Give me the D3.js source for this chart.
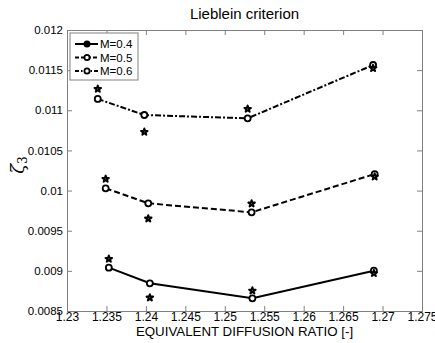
<!DOCTYPE html>
<html>
<head>
<meta charset="utf-8">
<script src="https://cdn.jsdelivr.net/npm/d3@7"></script>
<style>
body { margin: 0; background: #fff; }
text { font-family: Arial, "Liberation Sans", sans-serif; }
</style>
</head>
<body>
<script>
/* Data */
var series = ["M=0.4", "M=0.5", "M=0.6"];
var dash = ["", "6,3", "6,2,2,2"];
var xM04 = [1.2353, 1.2405, 1.2535, 1.2689],
	yM04 = [0.00904, 0.008845, 0.008658, 0.009002],
	sM04 = [0.009148, 0.008666, 0.008753, 0.00897];
var xM05 = [1.2349, 1.2403, 1.2534, 1.2690],
	yM05 = [0.010028, 0.009841, 0.009729, 0.010206],
	sM05 = [0.010144, 0.00965, 0.009837, 0.010173];
var xM06 = [1.2339, 1.2398, 1.2529, 1.2688],
	yM06 = [0.011141, 0.010941, 0.0109, 0.011564],
	sM06 = [0.011265, 0.01073, 0.011016, 0.011523];
var xTicks = [1.23, 1.235, 1.24, 1.245, 1.25, 1.255, 1.26, 1.265, 1.27, 1.275];
var yTicks = [0.0085, 0.009, 0.0095, 0.01, 0.0105, 0.011, 0.0115, 0.012];

var xs = [xM04, xM05, xM06], ys = [yM04, yM05, yM06], ss = [sM04, sM05, sM06];

/* Display setup */
var W = 435, H = 343,
	margin = {top: 30, right: 13, bottom: 32, left: 67},
	width = W - margin.left - margin.right,
	height = H - margin.top - margin.bottom,
	svg = d3.select("body").append("svg").attr("width", W).attr("height", H),
	g = svg.append("g").attr("transform", "translate(" + margin.left + "," + margin.top + ")");

var x = d3.scaleLinear().domain([1.23, 1.275]).range([0, width]),
	y = d3.scaleLinear().domain([0.0085, 0.012]).range([height, 0]);

var axisColor = "#808080";
var fmt = function(d) { return String(+d.toFixed(5)); };

// axes, ticks pointing inwards, mirrored on top and right
var gx = g.append("g").attr("transform", "translate(0," + height + ")")
	.call(d3.axisBottom(x).tickValues(xTicks).tickSize(-5).tickPadding(3).tickFormat(fmt));
var gxTop = g.append("g")
	.call(d3.axisTop(x).tickValues(xTicks).tickSize(-5).tickFormat(""));
var gy = g.append("g")
	.call(d3.axisLeft(y).tickValues(yTicks).tickSize(-5).tickPadding(4).tickFormat(fmt));
var gyRight = g.append("g").attr("transform", "translate(" + width + ",0)")
	.call(d3.axisRight(y).tickValues(yTicks).tickSize(-5).tickFormat(""));

[gx, gxTop, gy, gyRight].forEach(function(a) {
	a.select(".domain").attr("stroke", axisColor);
	a.selectAll(".tick line").attr("stroke", axisColor);
	a.selectAll("text").attr("fill", "#000").style("font-size", "11.5px");
});
gx.selectAll("text").attr("dy", "0.6em").style("font-size", "12px");

var line = d3.line()
	.x(function(d) { return x(d[0]); })
	.y(function(d) { return y(d[1]); });

var star = d3.symbol().type(d3.symbolStar).size(13);

series.forEach(function(name, i) {
	var pts = xs[i].map(function(v, j) { return [v, ys[i][j]]; });
	g.append("path")
		.datum(pts)
		.attr("d", line)
		.attr("fill", "none")
		.attr("stroke", "#000")
		.attr("stroke-width", 2)
		.attr("stroke-dasharray", dash[i]);

	g.selectAll(".circ" + i)
		.data(pts)
		.enter().append("circle")
			.attr("cx", function(d) { return x(d[0]); })
			.attr("cy", function(d) { return y(d[1]); })
			.attr("r", 3)
			.attr("fill", "#fff")
			.attr("stroke", "#000")
			.attr("stroke-width", 1.8);

	g.selectAll(".star" + i)
		.data(xs[i].map(function(v, j) { return [v, ss[i][j]]; }))
		.enter().append("path")
			.attr("d", star)
			.attr("transform", function(d) { return "translate(" + x(d[0]) + "," + y(d[1]) + ")"; })
			.attr("fill", "#fff")
			.attr("stroke", "#000")
			.attr("stroke-width", 2)
			.attr("stroke-linejoin", "round");
});

/* Legend */
var legend = g.append("g").attr("transform", "translate(3,3)");
legend.append("rect")
	.attr("width", 68).attr("height", 47)
	.attr("fill", "#fff").attr("stroke", axisColor);
series.forEach(function(name, i) {
	var ly = 11 + i * 13.5;
	legend.append("line")
		.attr("x1", 5).attr("x2", 28).attr("y1", ly).attr("y2", ly)
		.attr("stroke", "#000").attr("stroke-width", 2)
		.attr("stroke-dasharray", i == 0 ? "" : (i == 1 ? "4,2" : "4,2,1.5,2"));
	legend.append("circle")
		.attr("cx", 17).attr("cy", ly).attr("r", 2.6)
		.attr("fill", i == 0 ? "#000" : "#fff")
		.attr("stroke", "#000").attr("stroke-width", 1.8);
	legend.append("text")
		.attr("x", 30).attr("y", ly).attr("dy", "0.35em")
		.style("font-size", "11.5px")
		.text(name);
});

/* Titles */
svg.append("text")
	.attr("x", margin.left + width / 2).attr("y", 19)
	.attr("text-anchor", "middle")
	.style("font-size", "15px")
	.text("Lieblein criterion");

svg.append("text")
	.attr("x", margin.left + width / 2).attr("y", 336)
	.attr("text-anchor", "middle")
	.style("font-size", "13.3px")
	.text("EQUIVALENT DIFFUSION RATIO [-]");

svg.append("text")
	.attr("transform", "translate(24,165) rotate(-90)")
	.attr("text-anchor", "middle")
	.style("font-family", "'DejaVu Serif', serif")
	.style("font-size", "18px")
	.style("font-style", "italic")
	.html("&#950;<tspan dy='3' font-size='12px' font-style='normal'>3</tspan>");
</script>
</body>
</html>
